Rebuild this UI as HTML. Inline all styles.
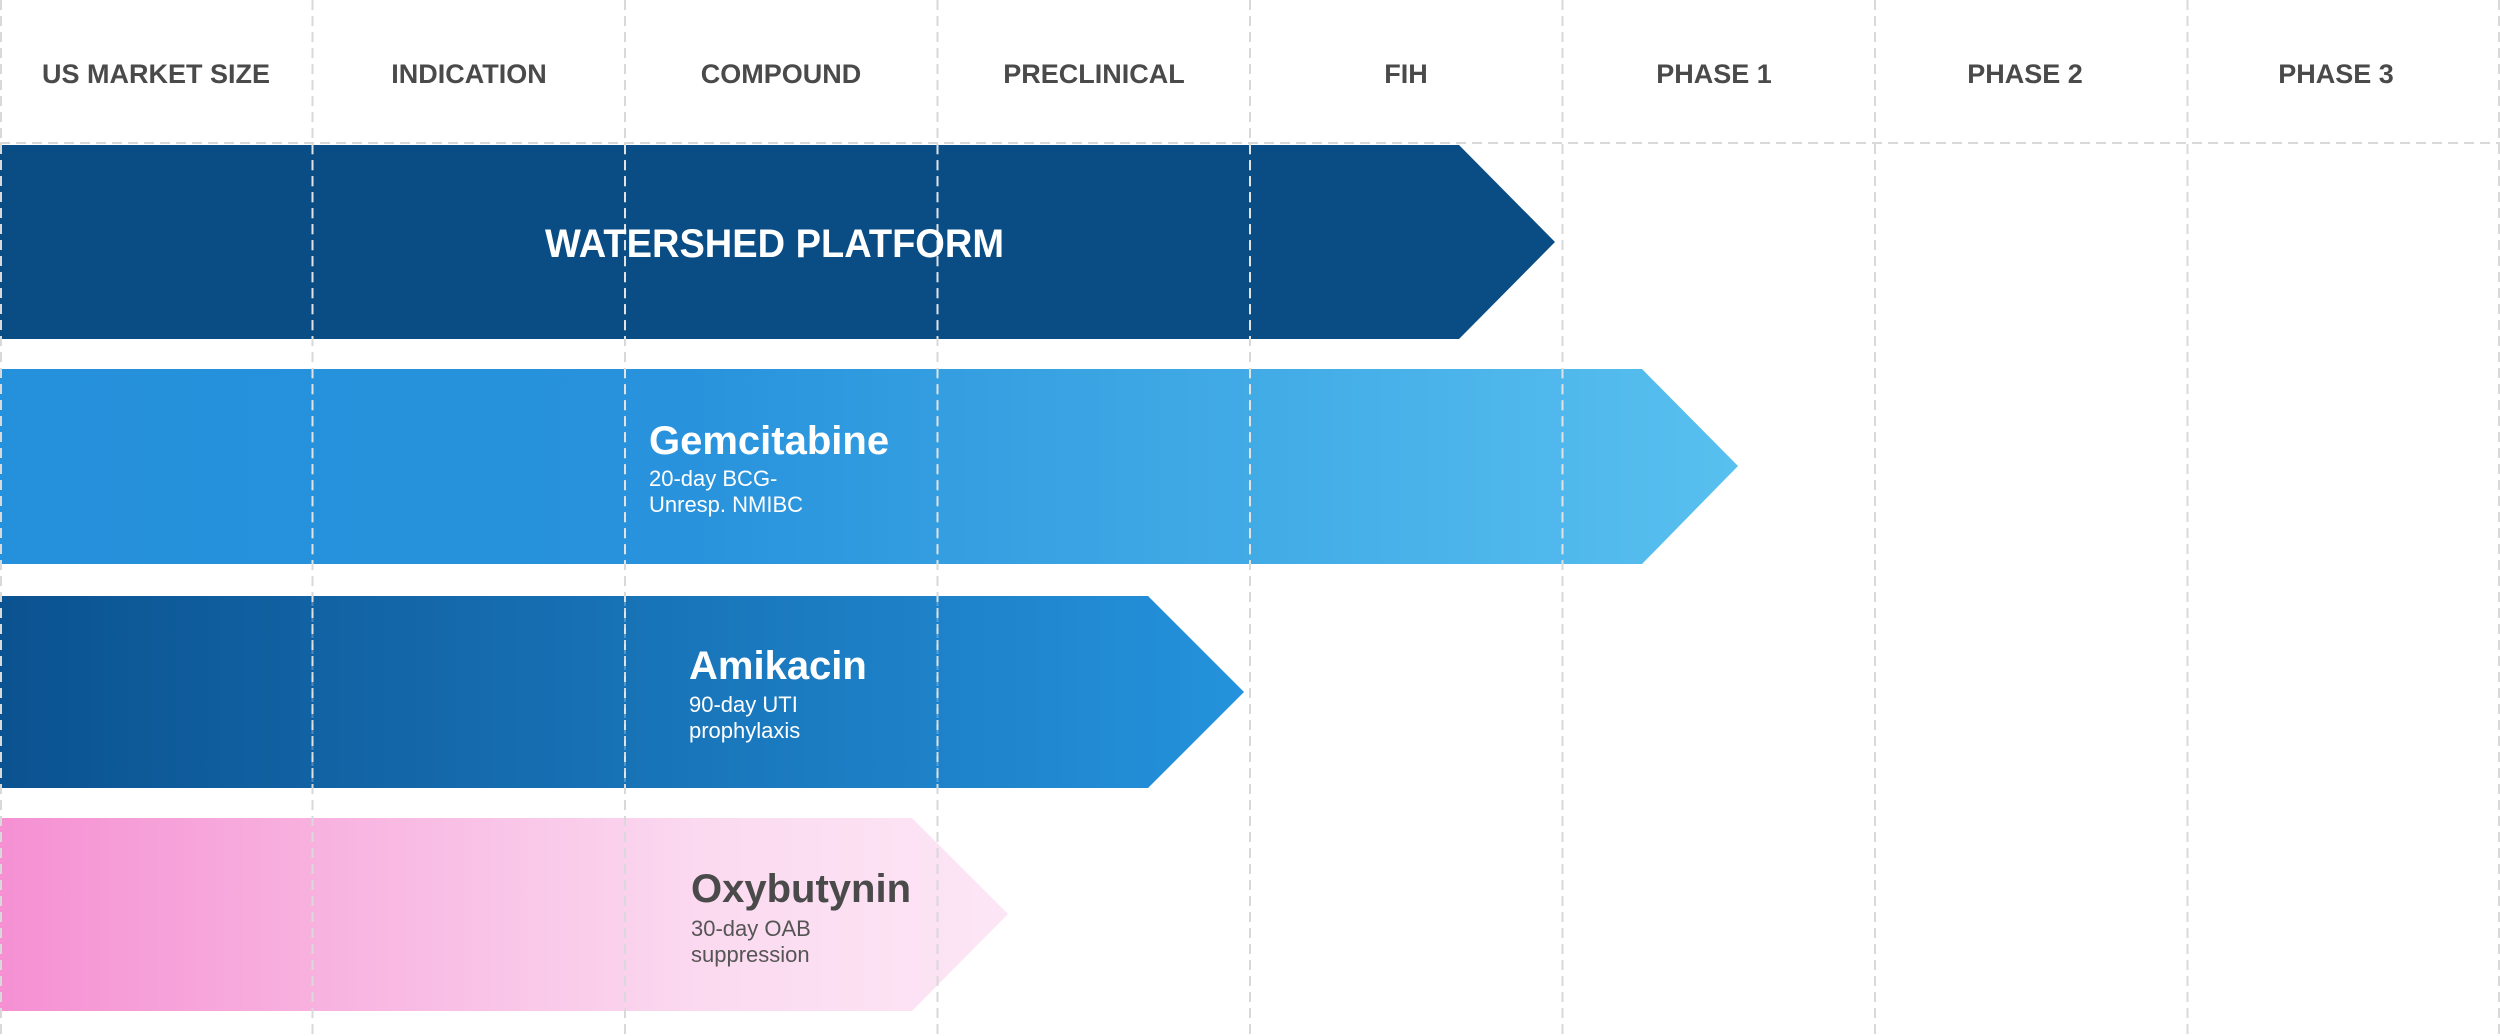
<!DOCTYPE html>
<html><head><meta charset="utf-8"><style>
html,body{margin:0;padding:0;background:#fff;}
svg{display:block;}
text{font-family:"Liberation Sans",sans-serif;}
</style></head><body>
<svg width="2500" height="1036" viewBox="0 0 2500 1036" xmlns="http://www.w3.org/2000/svg">
<defs>
<linearGradient id="gG" x1="0" x2="1" y1="0" y2="0">
<stop offset="0" stop-color="#2590db"/><stop offset="0.4" stop-color="#2893dc"/><stop offset="1" stop-color="#58c0ef"/></linearGradient>
<linearGradient id="gA" x1="0" x2="1" y1="0" y2="0">
<stop offset="0" stop-color="#0b5290"/><stop offset="1" stop-color="#2492dc"/></linearGradient>
<linearGradient id="gO" x1="0" x2="1" y1="0" y2="0">
<stop offset="0" stop-color="#f590d2"/><stop offset="0.7" stop-color="#fbdaf0"/><stop offset="1" stop-color="#fce6f5"/></linearGradient>
</defs>
<!-- bars -->
<polygon points="0,145 1459,145 1555,242 1459,339 0,339" fill="#0a4d85"/>
<polygon points="0,369 1642,369 1738,466 1642,564 0,564" fill="url(#gG)"/>
<polygon points="0,596 1148,596 1244,692 1148,788 0,788" fill="url(#gA)"/>
<polygon points="0,818 912,818 1008,914 912,1011 0,1011" fill="url(#gO)"/>
<!-- grid -->
<g stroke="#d9d9d9" stroke-width="2" stroke-dasharray="10,6" fill="none">
<line x1="0" y1="143" x2="2500" y2="143"/>
<line x1="1" y1="0" x2="1" y2="1036"/>
<line x1="312.5" y1="0" x2="312.5" y2="1036"/>
<line x1="625" y1="0" x2="625" y2="1036"/>
<line x1="937.5" y1="0" x2="937.5" y2="1036"/>
<line x1="1250" y1="0" x2="1250" y2="1036"/>
<line x1="1562.5" y1="0" x2="1562.5" y2="1036"/>
<line x1="1875" y1="0" x2="1875" y2="1036"/>
<line x1="2187.5" y1="0" x2="2187.5" y2="1036"/>
<line x1="2499" y1="0" x2="2499" y2="1036"/>
</g>
<g stroke="#ffffff" stroke-opacity="0.25" stroke-width="2" stroke-dasharray="10,6">
<line x1="312.5" y1="145" x2="312.5" y2="339"/><line x1="625" y1="145" x2="625" y2="339"/><line x1="937.5" y1="145" x2="937.5" y2="339"/><line x1="1250" y1="145" x2="1250" y2="339"/>
<line x1="312.5" y1="369" x2="312.5" y2="564"/><line x1="625" y1="369" x2="625" y2="564"/><line x1="937.5" y1="369" x2="937.5" y2="564"/><line x1="1250" y1="369" x2="1250" y2="564"/><line x1="1562.5" y1="369" x2="1562.5" y2="564"/>
<line x1="312.5" y1="596" x2="312.5" y2="788"/><line x1="625" y1="596" x2="625" y2="788"/><line x1="937.5" y1="596" x2="937.5" y2="788"/>
</g>
<!-- headers -->
<g font-size="27" font-weight="bold" fill="#4a4a4a" text-anchor="middle">
<text x="156" y="83">US MARKET SIZE</text>
<text x="469" y="83">INDICATION</text>
<text x="781" y="83">COMPOUND</text>
<text x="1094" y="83">PRECLINICAL</text>
<text x="1406" y="83">FIH</text>
<text x="1714" y="83">PHASE 1</text>
<text x="2025" y="83">PHASE 2</text>
<text x="2336" y="83">PHASE 3</text>
</g>
<!-- labels -->
<text x="545" y="257" font-size="40" font-weight="bold" fill="#fff" textLength="459" lengthAdjust="spacingAndGlyphs">WATERSHED PLATFORM</text>
<text x="649" y="454" font-size="40" font-weight="bold" fill="#fff">Gemcitabine</text>
<text x="649" y="486" font-size="22" fill="#fff">20-day BCG-</text>
<text x="649" y="512" font-size="22" fill="#fff">Unresp. NMIBC</text>
<text x="689" y="679" font-size="40" font-weight="bold" fill="#fff">Amikacin</text>
<text x="689" y="712" font-size="22" fill="#fff">90-day UTI</text>
<text x="689" y="738" font-size="22" fill="#fff">prophylaxis</text>
<text x="691" y="902" font-size="40" font-weight="bold" fill="#4a4a4a">Oxybutynin</text>
<text x="691" y="936" font-size="22" fill="#555">30-day OAB</text>
<text x="691" y="962" font-size="22" fill="#555">suppression</text>
</svg>
</body></html>
